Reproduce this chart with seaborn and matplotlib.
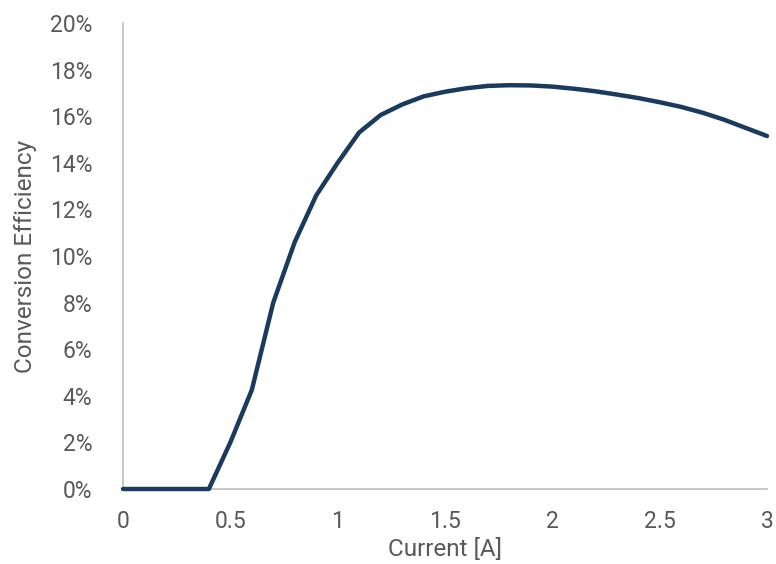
import numpy as np
import pandas as pd
import matplotlib
matplotlib.use("Agg")
import matplotlib.pyplot as plt
import seaborn as sns
from matplotlib.ticker import PercentFormatter

# Datos
current = [0.0, 0.1, 0.2, 0.3, 0.4, 0.5, 0.6, 0.7, 0.8, 0.9, 1.0,
           1.1, 1.2, 1.3, 1.4, 1.5, 1.6, 1.7, 1.8, 1.9, 2.0,
           2.1, 2.2, 2.3, 2.4, 2.5, 2.6, 2.7, 2.8, 2.9, 3.0]
efficiency = [0.0, 0.0, 0.0, 0.0, 0.0, 2.0, 4.25, 8.0, 10.6, 12.6, 14.0,
              15.3, 16.05, 16.5, 16.85, 17.05, 17.2, 17.3, 17.33, 17.32, 17.27,
              17.18, 17.07, 16.93, 16.78, 16.6, 16.4, 16.15, 15.85, 15.5, 15.15]

df = pd.DataFrame({"Current": current, "Efficiency": efficiency})

sns.set_style("white")
plt.rcParams['font.family'] = ['Roboto', 'DejaVu Sans']

fig = plt.figure(figsize=(7.76, 5.64), dpi=100)
ax = fig.add_axes([123 / 776, 1 - 489 / 564, 644 / 776, 466 / 564])

sns.lineplot(data=df, x="Current", y="Efficiency", ax=ax, color="#1a3a5e",
             linewidth=3.2, solid_capstyle="round", clip_on=False, zorder=3)

ax.set_xlim(0, 3)
ax.set_ylim(0, 20)
ax.set_xticks([0, 0.5, 1, 1.5, 2, 2.5, 3])
ax.set_xticklabels(["0", "0.5", "1", "1.5", "2", "2.5", "3"])
ax.set_yticks(range(0, 21, 2))
ax.yaxis.set_major_formatter(PercentFormatter(decimals=0))

txt = "#595959"
ax.tick_params(axis="both", length=0, labelsize=16.5, colors=txt)
ax.tick_params(axis="y", pad=22)
ax.tick_params(axis="x", pad=15)
ax.set_xlabel("Current [A]", fontsize=17.5, color=txt, labelpad=4)
ax.set_ylabel("Conversion Efficiency", fontsize=17.5, color=txt, labelpad=9)

for s in ["top", "right"]:
    ax.spines[s].set_visible(False)
for s in ["left", "bottom"]:
    ax.spines[s].set_color("#bfbfbf")
    ax.spines[s].set_linewidth(1.2)

plt.savefig("out.png", dpi=100)
